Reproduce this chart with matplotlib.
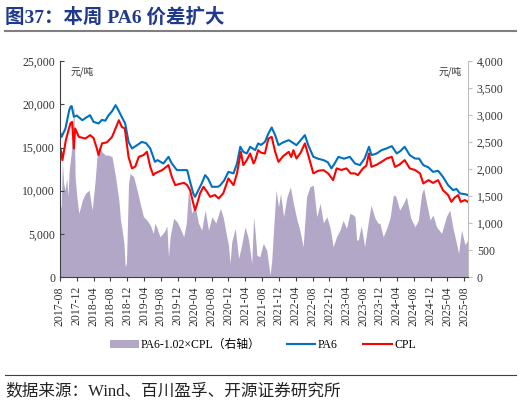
import numpy as np
import pandas as pd
import matplotlib
matplotlib.use("Agg")
import matplotlib.pyplot as plt
import matplotlib.dates as mdates
from matplotlib.patches import Patch
from matplotlib.lines import Line2D

plt.rcParams['font.family'] = ['Liberation Serif', 'Noto Sans CJK SC', 'DejaVu Sans']

# PA6 价格（元/吨）
pa6_dates = [
    "2017-08-01", "2017-08-13", "2017-09-10", "2017-10-07", "2017-10-16", "2017-10-25", "2017-11-10",
    "2017-12-01", "2018-01-10", "2018-02-10", "2018-03-07", "2018-04-01", "2018-05-07", "2018-06-01",
    "2018-06-25", "2018-07-19", "2018-08-13", "2018-09-07", "2018-09-22", "2018-10-22", "2018-11-16",
    "2018-12-10", "2019-01-04", "2019-02-10", "2019-03-16", "2019-04-16", "2019-05-16", "2019-06-19",
    "2019-07-07", "2019-08-19", "2019-09-25", "2019-10-19", "2019-11-25", "2020-01-01", "2020-02-07",
    "2020-02-28", "2020-03-22", "2020-04-04", "2020-04-28", "2020-05-22", "2020-06-16", "2020-07-07",
    "2020-08-04", "2020-09-16", "2020-10-04", "2020-11-01", "2020-12-01", "2021-01-07", "2021-02-01",
    "2021-02-25", "2021-03-19", "2021-04-13", "2021-05-07", "2021-06-13", "2021-07-04", "2021-07-25",
    "2021-08-22", "2021-09-16", "2021-10-10", "2021-11-04", "2021-11-28", "2022-01-01", "2022-02-10",
    "2022-03-07", "2022-04-07", "2022-05-10", "2022-06-07", "2022-07-01", "2022-08-07", "2022-09-10",
    "2022-10-19", "2022-11-19", "2022-12-16", "2023-01-10", "2023-02-04", "2023-03-16", "2023-04-28",
    "2023-06-04", "2023-07-10", "2023-08-13", "2023-09-13", "2023-10-01", "2023-11-07", "2023-12-13",
    "2024-01-19", "2024-02-25", "2024-04-01", "2024-04-28", "2024-05-28", "2024-07-04", "2024-08-10",
    "2024-09-10", "2024-10-10", "2024-11-16", "2024-12-19", "2025-01-25", "2025-03-01", "2025-04-07",
    "2025-05-13", "2025-06-07", "2025-07-01", "2025-08-07", "2025-08-28",
]
pa6_vals = [
    16810, 16230, 17200, 19300, 19700, 19800, 18550,
    18700, 18160, 18500, 18740, 17970, 17780, 18200,
    18100, 18740, 19200, 19900, 19500, 18550, 17780,
    15650, 14890, 15270, 15650, 15500, 14890, 13340,
    13540, 13150, 13920, 13150, 12380, 12380, 12380,
    11030, 9680, 9290, 10060, 10840, 11800, 11400,
    10450, 10450, 10640, 11200, 12180, 12000, 13150,
    15080, 14500, 14310, 15080, 14700, 15470, 15300,
    15650, 16620, 17320, 16430, 15270, 15600, 15850,
    15600, 15270, 15900, 16430, 15270, 13920, 13700,
    13540, 13300, 12580, 13200, 13920, 13700, 13920,
    13150, 12960, 13730, 15080, 14120, 14300, 14690,
    14900, 15160, 14310, 14600, 15080, 14120, 13730,
    13700, 12960, 12700, 12180, 12300, 11600, 10640,
    10060, 10200, 9680, 9600, 9490,
]

# CPL 价格（元/吨）
cpl_dates = [
    "2017-08-01", "2017-08-10", "2017-08-19", "2017-09-13", "2017-10-07", "2017-10-16", "2017-10-28",
    "2017-11-10", "2017-11-19", "2017-12-16", "2018-02-01", "2018-03-07", "2018-04-01", "2018-04-25",
    "2018-05-07", "2018-06-01", "2018-07-07", "2018-08-13", "2018-09-07", "2018-10-01", "2018-10-22",
    "2018-11-13", "2018-12-10", "2019-01-04", "2019-01-28", "2019-02-22", "2019-03-28", "2019-04-22",
    "2019-05-16", "2019-06-07", "2019-06-19", "2019-07-13", "2019-08-10", "2019-09-25", "2019-10-19",
    "2019-11-13", "2019-12-16", "2020-01-16", "2020-02-07", "2020-02-28", "2020-03-22", "2020-04-04",
    "2020-04-16", "2020-05-10", "2020-06-04", "2020-06-28", "2020-07-22", "2020-08-25", "2020-09-22",
    "2020-10-25", "2020-12-01", "2021-01-07", "2021-02-01", "2021-03-01", "2021-03-19", "2021-04-13",
    "2021-05-07", "2021-06-01", "2021-06-13", "2021-07-04", "2021-07-25", "2021-08-22", "2021-09-16",
    "2021-10-10", "2021-11-04", "2021-11-28", "2022-01-01", "2022-02-10", "2022-02-28", "2022-03-16",
    "2022-04-07", "2022-05-07", "2022-06-07", "2022-07-01", "2022-08-07", "2022-09-10", "2022-10-19",
    "2022-11-22", "2022-12-28", "2023-01-22", "2023-02-25", "2023-04-04", "2023-05-04", "2023-06-04",
    "2023-06-25", "2023-08-01", "2023-08-25", "2023-09-13", "2023-10-01", "2023-11-07", "2023-12-13",
    "2024-01-19", "2024-02-25", "2024-03-19", "2024-04-19", "2024-05-28", "2024-07-04", "2024-08-10",
    "2024-09-16", "2024-10-10", "2024-11-16", "2024-12-19", "2025-01-25", "2025-03-01", "2025-04-07",
    "2025-05-01", "2025-05-25", "2025-06-19", "2025-07-07", "2025-08-07", "2025-08-28",
]
cpl_vals = [
    15080, 14500, 13540, 15850, 17300, 17780, 17970,
    14890, 17200, 16230, 16040, 16430, 16100, 14890,
    14120, 15470, 15600, 16230, 17200, 18160, 17390,
    17200, 13920, 12580, 12800, 13920, 14120, 14500,
    12760, 11800, 12000, 12180, 12380, 12960, 11600,
    10640, 10800, 10900, 10640, 10060, 8530, 7750,
    8300, 9680, 10450, 9900, 9290, 9500, 9100,
    9700, 11420, 10640, 12000, 14500, 12960, 13540,
    14310, 13150, 13540, 14690, 14400, 14310, 16040,
    16230, 14500, 13340, 14000, 14500, 13900, 14690,
    13730, 14400, 15470, 14120, 12000, 12300, 12380,
    12000, 11220, 12580, 12400, 12580, 12000, 12000,
    11800, 12580, 12900, 14310, 12760, 13000, 13340,
    13730, 13920, 12760, 13000, 13540, 12580, 12400,
    12000, 10840, 11220, 10900, 11220, 10060, 9490,
    8710, 9200, 9490, 8710, 8910, 8710,
]

# PA6-1.02×CPL 价差（元/吨，右轴）
spread_dates = [
    "2017-08-01", "2017-08-10", "2017-08-19", "2017-08-28", "2017-09-07", "2017-09-19", "2017-09-28",
    "2017-10-07", "2017-10-22", "2017-11-10", "2017-11-19", "2017-12-01", "2017-12-16", "2018-01-10",
    "2018-02-01", "2018-02-28", "2018-03-22", "2018-04-13", "2018-04-25", "2018-05-07", "2018-06-01",
    "2018-06-25", "2018-07-19", "2018-08-13", "2018-09-07", "2018-10-01", "2018-10-13", "2018-10-25",
    "2018-11-07", "2018-11-16", "2018-11-25", "2018-12-10", "2018-12-22", "2019-01-16", "2019-02-10",
    "2019-03-04", "2019-03-28", "2019-04-22", "2019-05-16", "2019-06-07", "2019-06-19", "2019-07-01",
    "2019-07-25", "2019-08-13", "2019-09-01", "2019-09-13", "2019-09-25", "2019-10-07", "2019-11-01",
    "2019-11-25", "2019-12-19", "2020-01-13", "2020-02-01", "2020-02-16", "2020-02-28", "2020-03-10",
    "2020-04-04", "2020-04-28", "2020-05-22", "2020-06-16", "2020-07-10", "2020-08-04", "2020-09-01",
    "2020-10-04", "2020-10-25", "2020-11-19", "2020-12-01", "2020-12-13", "2020-12-25", "2021-01-19",
    "2021-02-13", "2021-03-07", "2021-04-01", "2021-04-25", "2021-05-19", "2021-06-01", "2021-06-13",
    "2021-06-25", "2021-07-16", "2021-08-10", "2021-09-04", "2021-09-28", "2021-10-10", "2021-10-22",
    "2021-11-10", "2021-11-28", "2021-12-13", "2022-01-04", "2022-01-28", "2022-02-22", "2022-03-13",
    "2022-04-07", "2022-05-01", "2022-05-25", "2022-06-19", "2022-07-13", "2022-08-07", "2022-09-01",
    "2022-09-25", "2022-10-19", "2022-11-13", "2022-12-07", "2022-12-28", "2023-01-22", "2023-02-16",
    "2023-03-10", "2023-04-04", "2023-04-28", "2023-05-22", "2023-06-04", "2023-06-16", "2023-06-28",
    "2023-07-19", "2023-08-13", "2023-09-04", "2023-09-28", "2023-10-25", "2023-11-16", "2023-12-01",
    "2023-12-25", "2024-01-19", "2024-02-13", "2024-03-07", "2024-03-25", "2024-04-22", "2024-05-16",
    "2024-06-10", "2024-07-10", "2024-08-10", "2024-09-04", "2024-09-28", "2024-10-13", "2024-11-04",
    "2024-11-28", "2024-12-19", "2025-01-13", "2025-02-19", "2025-03-25", "2025-04-19", "2025-05-13",
    "2025-06-07", "2025-06-22", "2025-07-13", "2025-08-07", "2025-08-28",
]
spread_vals = [
    1300, 1300, 2135, 1735, 1610, 1830, 1490,
    1980, 2300, 3215, 1860, 1490, 1180, 1425,
    1550, 1610, 1240, 1795, 2200, 2413, 2320,
    2260, 2260, 2228, 1858, 1426, 1056, 870,
    624, 190, 260, 1735, 1920, 1858, 1610,
    1365, 1117, 1056, 963, 809, 995, 932,
    746, 800, 870, 950, 376, 750, 1087,
    1025, 900, 746, 1000, 1610, 1450, 1180,
    1333, 1000, 870, 1240, 870, 1117, 1000,
    1272, 1100, 746, 600, 254, 650, 900,
    346, 600, 932, 700, 254, 1117, 809,
    400, 376, 624, 500, 37, 300, 809,
    1610, 1300, 1550, 1117, 1487, 1672, 1400,
    1100, 870, 561, 1487, 1672, 1704, 1117,
    1365, 1000, 1117, 900, 561, 750, 870,
    1050, 900, 1180, 1150, 1117, 685, 685,
    950, 561, 950, 1333, 1100, 1000, 995,
    746, 900, 1100, 1519, 1500, 1240, 1350,
    1487, 1100, 932, 1050, 1550, 1642, 1350,
    1056, 1150, 932, 809, 1117, 1240, 900,
    624, 439, 870, 600, 685,
]

left_ticks = [0, 5000, 10000, 15000, 20000, 25000]
right_ticks = [0, 500, 1000, 1500, 2000, 2500, 3000, 3500, 4000]

BAR_C = "#B3A7C7"
BLUE = "#0070C0"
RED = "#FF0000"
TITLE_C = "#1F3A8C"

fig = plt.figure(figsize=(5.21, 4.05), dpi=100)
ax = fig.add_axes([0.115, 0.316, 0.783, 0.533])
ax2 = ax.twinx()
ax.set_zorder(ax2.get_zorder() + 1)
ax.patch.set_visible(False)

sd = pd.to_datetime(spread_dates)
ax2.fill_between(sd, 0, spread_vals, color=BAR_C, lw=0)
ax.plot(pd.to_datetime(pa6_dates), pa6_vals, color=BLUE, lw=1.5)
ax.plot(pd.to_datetime(cpl_dates), cpl_vals, color=RED, lw=1.5)

ax.set_xlim(pd.Timestamp("2017-08-01"), pd.Timestamp("2025-08-28"))
ax.set_ylim(0, 25000)
ax2.set_ylim(0, 4000)
ax.set_yticks(left_ticks)
ax.set_yticklabels([f"{v:,}" for v in left_ticks])
ax2.set_yticks(right_ticks)
ax2.set_yticklabels([f"{v:,}" for v in right_ticks])

ax.xaxis.set_major_locator(mdates.MonthLocator(bymonth=[4, 8, 12]))
ax.xaxis.set_major_formatter(mdates.DateFormatter("%Y-%m"))
for lab in ax.get_xticklabels():
    pass
ax.tick_params(axis="x", rotation=90, labelsize=8.5, length=3, direction="out", colors="#404040")
ax.tick_params(axis="y", labelsize=8.5, length=3, direction="in", colors="#404040")
ax2.tick_params(axis="y", labelsize=8.5, length=3, direction="out", colors="#BFBFBF", labelcolor="#404040")
for t in ax.get_xticklabels() + ax.get_yticklabels() + ax2.get_yticklabels():
    t.set_color("#333333")

for a in (ax, ax2):
    a.spines["top"].set_visible(False)
ax.spines["right"].set_visible(False)
ax2.spines["left"].set_visible(False)
ax2.spines["bottom"].set_visible(False)
ax.spines["left"].set_color("#404040")
ax.spines["bottom"].set_color("#404040")
ax2.spines["right"].set_color("#BFBFBF")

ax.text(0.025, 0.975, "元/吨", transform=ax.transAxes, fontsize=7, va="top", ha="left",
        color="#333333", family=["Noto Sans CJK SC"])
ax.text(0.985, 0.975, "元/吨", transform=ax.transAxes, fontsize=7, va="top", ha="right",
        color="#333333", family=["Noto Sans CJK SC"])

handles = [Patch(facecolor=BAR_C, edgecolor="none"),
           Line2D([], [], color=BLUE, lw=1.5),
           Line2D([], [], color=RED, lw=1.5)]
labels = ["PA6-1.02×CPL（右轴）", "PA6", "CPL"]
fig.legend(handles, labels, loc="center", bbox_to_anchor=(0.505, 0.148), ncol=3, frameon=False,
           fontsize=8.5, handlelength=2.4, handleheight=0.6, columnspacing=2.2, handletextpad=0.2)

fig.text(0.01, 0.958, "图37：本周 PA6 价差扩大", fontsize=14, fontweight="bold", color=TITLE_C,
         va="center", ha="left")
fig.add_artist(Line2D([0.01, 0.99], [0.924, 0.924], color="#7F7F7F", lw=1.5))
fig.add_artist(Line2D([0.01, 0.99], [0.074, 0.074], color="#404040", lw=0.8))
fig.text(0.01, 0.035, "数据来源：Wind、百川盈孚、开源证券研究所", fontsize=12, color="#222222",
         va="center", ha="left")

fig.savefig("out.png", dpi=100)
